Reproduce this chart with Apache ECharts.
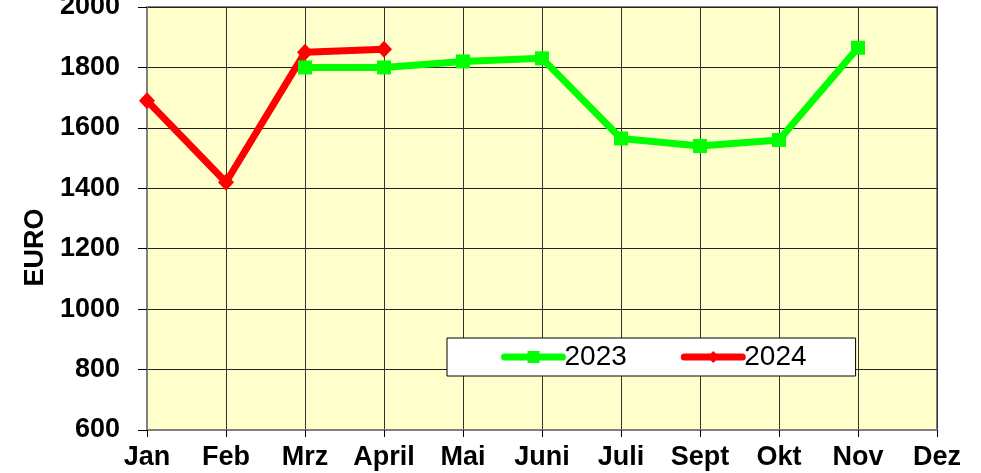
<!DOCTYPE html>
<html>
<head>
<meta charset="utf-8">
<script src="https://cdn.jsdelivr.net/npm/echarts@6/dist/echarts.min.js"></script>
<style>
html,body{margin:0;padding:0;background:#fff;}
#c{width:981px;height:473px;}
</style>
</head>
<body>
<div id="c"></div>
<script>
const months = ['Jan','Feb','Mrz','April','Mai','Juni','Juli','Sept','Okt','Nov','Dez'];
const values2023 = [null,null,1800,1800,1820,1830,1565,1540,1560,1865,null];
const values2024 = [1690,1420,1850,1860,null,null,null,null,null,null,null];
const yTicks = {min:600, max:2000, interval:200};

const chart = echarts.init(document.getElementById('c'));
const FONT = '"Liberation Sans", Arial, sans-serif';
chart.setOption({
  animation:false,
  backgroundColor:'#ffffff',
  grid:{left:147, top:7, right:44, bottom:43, show:true, backgroundColor:'#ffffcc', borderColor:'#808080', borderWidth:2, outerBoundsMode:'none', containLabel:false},
  legend:{
    left:447, top:338,
    padding:[5,49,5,54],
    backgroundColor:'#ffffff', borderColor:'#000000', borderWidth:1, borderRadius:0,
    itemWidth:58, itemHeight:15, itemGap:54,
    lineStyle:{width:7, cap:'round'},
    textStyle:{fontFamily:FONT, fontSize:28, color:'#000', padding:[0,0,0,-3]},
    data:['2023','2024']
  },
  xAxis:{
    type:'category', data:months, boundaryGap:false,
    axisLine:{show:true, lineStyle:{color:'#808080', width:2}},
    axisTick:{show:true, alignWithLabel:true, length:7, lineStyle:{color:'#000', width:1}},
    axisLabel:{fontFamily:FONT, fontSize:27, fontWeight:'bold', color:'#000', margin:14, interval:0},
    splitLine:{show:true, lineStyle:{color:'#333', width:1}}
  },
  yAxis:{
    type:'value', min:yTicks.min, max:yTicks.max, interval:yTicks.interval,
    name:'EURO', nameLocation:'middle', nameGap:90, nameRotate:90,
    nameTextStyle:{fontFamily:FONT, fontSize:27, fontWeight:'bold', color:'#000', padding:[0,58,0,0]},
    axisLine:{show:true, lineStyle:{color:'#808080', width:2}},
    axisTick:{show:true, length:9, lineStyle:{color:'#000', width:1}},
    axisLabel:{fontFamily:FONT, fontSize:27, fontWeight:'bold', color:'#000', margin:27,
      formatter:function(v){return String(v);}},
    splitLine:{show:true, lineStyle:{color:'#222', width:1}}
  },
  series:[
    {name:'2023', type:'line', data:values2023, connectNulls:false,
     symbol:'rect', symbolSize:14, showAllSymbol:true,
     lineStyle:{color:'#00ff00', width:7}, itemStyle:{color:'#00ff00'}},
    {name:'2024', type:'line', data:values2024, connectNulls:false,
     symbol:'diamond', symbolSize:[16,17], showAllSymbol:true,
     lineStyle:{color:'#ff0000', width:7}, itemStyle:{color:'#ff0000'}}
  ]
});
</script>
</body>
</html>
